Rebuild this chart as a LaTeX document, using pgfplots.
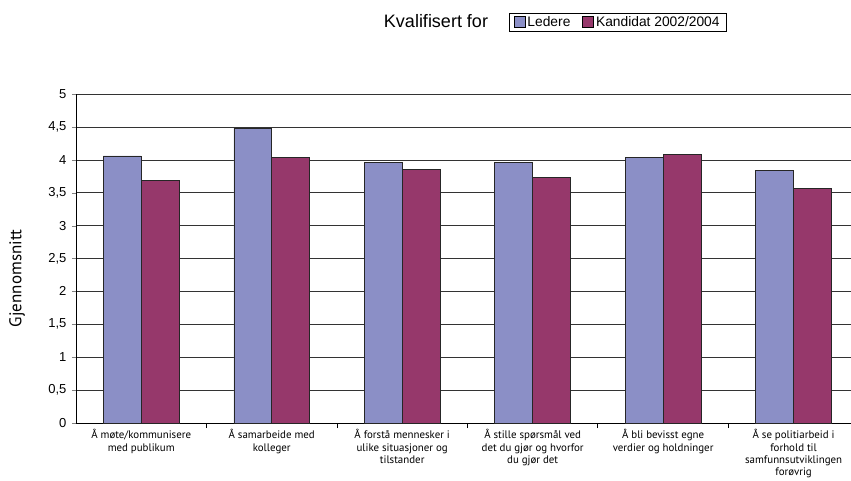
\documentclass[border=0pt]{standalone}
\usepackage{fontspec}
\setmainfont{Liberation Sans}
\newfontfamily\lblfont{PT Sans}
\usepackage{pgfplots}
\pgfplotsset{compat=1.18}
\definecolor{ledere}{RGB}{139,143,198}
\definecolor{kand}{RGB}{150,56,107}
\begin{document}
\begin{tikzpicture}[x=1pt,y=1pt]
\begin{axis}[
  at={(76pt,57pt)}, anchor=south west,
  scale only axis, width=775pt, height=329pt,
  ybar=0pt, bar width=0.29,
  xmin=-0.5, xmax=5.44,
  ymin=0, ymax=5,
  axis x line=bottom, axis y line=left,
  axis line style={-, black, line width=0.8pt},
  ytick={0,0.5,...,5},
  yticklabel style={/pgf/number format/use comma, font=\fontsize{13}{15}\selectfont, xshift=-2pt},
  /pgf/number format/assume math mode=true,
  ymajorgrids, grid style={black!80, line width=0.6pt},
  tick align=outside,
  major tick length=4pt,
  xtick={0,1,2,3,4,5},
  x tick style={draw=none},
  xticklabels={
    {Å møte/kommunisere\\med publikum},
    {Å samarbeide med\\kolleger},
    {Å forstå mennesker i\\ulike situasjoner og\\tilstander},
    {Å stille spørsmål ved\\det du gjør og hvorfor\\du gjør det},
    {Å bli bevisst egne\\verdier og holdninger},
    {Å se politiarbeid i\\forhold til\\samfunnsutviklingen\\forøvrig}},
  xticklabel style={align=center, font=\lblfont\fontsize{10.9}{12.2}\selectfont, yshift=1pt},
  extra x ticks={0.5,1.5,2.5,3.5,4.5},
  extra x tick labels={},
  extra x tick style={x tick style={draw=black, line width=0.8pt}, major tick length=5pt, grid=none},
  ylabel={Gjennomsnitt},
  ylabel style={at={(rel axis cs:-0.076,0.44)}, anchor=center, font=\lblfont\fontsize{17}{19}\selectfont},
  legend columns=2,
  legend style={at={(rel axis cs:0.699,1.218)}, anchor=center, draw=black, line width=0.6pt,
    font=\fontsize{13.8}{15}\selectfont, inner xsep=5pt, inner ysep=1.5pt,
    /tikz/every even column/.append style={column sep=10pt}},
  legend image code/.code={\draw[#1, draw=black, line width=0.6pt] (0pt,-5pt) rectangle (11pt,6pt);},
]
\addplot[fill=ledere, draw=black!85, line width=0.7pt] coordinates {(0,4.06) (1,4.48) (2,3.96) (3,3.96) (4,4.04) (5,3.84)};
\addplot[fill=kand, draw=black!85, line width=0.7pt] coordinates {(0,3.69) (1,4.04) (2,3.86) (3,3.73) (4,4.08) (5,3.56)};
\legend{Ledere, Kandidat 2002/2004}
\end{axis}
\node[font=\fontsize{18}{20}\selectfont, anchor=center] at (436pt,459pt) {Kvalifisert for};
\pgfresetboundingbox
\path[use as bounding box] (0,0) rectangle (851pt,480pt);
\end{tikzpicture}
\end{document}
